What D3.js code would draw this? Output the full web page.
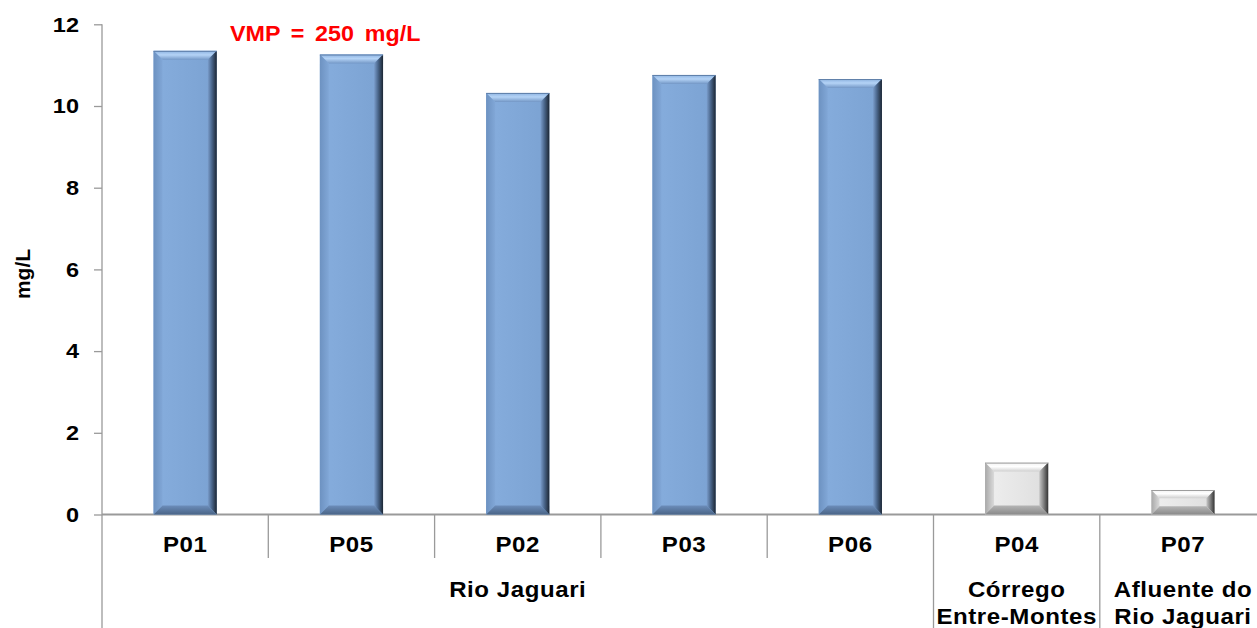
<!DOCTYPE html>
<html>
<head>
<meta charset="utf-8">
<script src="https://cdn.jsdelivr.net/npm/d3@7/dist/d3.min.js"></script>
<style>
  html, body { margin: 0; padding: 0; background: #fff; overflow: hidden; }
  svg { display: block; font-family: "Liberation Sans", Arial, sans-serif; }
</style>
</head>
<body>
<svg id="chart" width="1257" height="628"></svg>
<script>
// Sampling points and their measured concentration (mg/L)
const categories = ["P01", "P05", "P02", "P03", "P06", "P04", "P07"];
const values = [11.35, 11.26, 10.32, 10.76, 10.66, 1.27, 0.6];
const barKind = ["blue", "blue", "blue", "blue", "blue", "gray", "gray"];

// Water bodies grouping the sampling points (first/last index, text lines)
const groupLabels = [["Rio Jaguari"], ["Córrego", "Entre-Montes"], ["Afluente do", "Rio Jaguari"]];
const groupStart = [0, 5, 6];
const groupEnd = [4, 5, 6];

const yTicks = [0, 2, 4, 6, 8, 10, 12];
const yTitle = "mg/L";
const limitNote = "VMP = 250 mg/L";

const svg = d3.select("#chart");
const W = 1257, H = 628;

const plotLeft = 102, plotTop = 24.3, plotBottom = 514.5;
const step = 166.3;

const x = d3.scaleBand()
  .domain(categories)
  .range([plotLeft, plotLeft + step * categories.length])
  .padding(0);
const y = d3.scaleLinear().domain([0, 12]).range([plotBottom, plotTop]);

const barW = x.bandwidth() * 0.38;
const axisColor = "#9a9a9a";
const labelStretch = 1.12;

// ---- gradients for the bevelled bars ----
const defs = svg.append("defs");
function grad(id, x1, y1, x2, y2, stops) {
  const g = defs.append("linearGradient").attr("id", id)
    .attr("x1", x1).attr("y1", y1).attr("x2", x2).attr("y2", y2);
  stops.forEach(s => g.append("stop").attr("offset", s[0]).attr("stop-color", s[1]));
}
const palettes = {
  blue: {
    face: [[0, "#86addd"], [1, "#7ba2d2"]],
    top: [[0, "#7397c6"], [0.55, "#b4d3f6"], [1, "#8db3e1"]],
    left: [[0, "#6d92c1"], [1, "#81a7d7"]],
    right: [[0, "#7b9ecd"], [0.45, "#4a668b"], [1, "#1c2633"]],
    bottom: [[0, "#6c8dba"], [1, "#4a6587"]],
    edge: "#5f7fa9"
  },
  gray: {
    face: [[0, "#efefef"], [1, "#dedede"]],
    top: [[0, "#cfcfcf"], [0.55, "#ffffff"], [1, "#f2f2f2"]],
    left: [[0, "#a8a8a8"], [1, "#dadada"]],
    right: [[0, "#c8c8c8"], [0.5, "#808080"], [1, "#333333"]],
    bottom: [[0, "#b5b5b5"], [1, "#8a8a8a"]],
    edge: "#9c9c9c"
  }
};
Object.keys(palettes).forEach(k => {
  const p = palettes[k];
  grad(k + "-face", 0, 0, 1, 0, p.face);
  grad(k + "-top", 0, 1, 0, 0, p.top);
  grad(k + "-left", 0, 0, 1, 0, p.left);
  grad(k + "-right", 0, 0, 1, 0, p.right);
  grad(k + "-bottom", 0, 0, 0, 1, p.bottom);
});

// ---- y axis ----
const yAxis = d3.axisLeft(y).tickValues(yTicks).tickSize(8).tickPadding(16).tickFormat(d3.format("d"));
const gy = svg.append("g").attr("transform", `translate(${plotLeft},0)`).call(yAxis);
gy.select(".domain").remove();
gy.selectAll(".tick line").attr("stroke", axisColor).attr("stroke-width", 1.3);
gy.selectAll(".tick text")
  .attr("x", 0)
  .attr("transform", `translate(-23,0) scale(${labelStretch},1)`)
  .attr("fill", "#000").attr("font-size", 21).attr("font-weight", "bold")
  .attr("font-family", "Liberation Sans, Arial, sans-serif");
// vertical axis line continuing down through the label area
svg.append("line")
  .attr("x1", plotLeft).attr("x2", plotLeft)
  .attr("y1", plotTop).attr("y2", H)
  .attr("stroke", axisColor).attr("stroke-width", 1.3);

// ---- x baseline and category separators ----
svg.append("line")
  .attr("x1", plotLeft).attr("x2", W)
  .attr("y1", y(0)).attr("y2", y(0))
  .attr("stroke", axisColor).attr("stroke-width", 1.8);

const groupBoundaryIdx = new Set(groupStart);
categories.forEach((c, i) => {
  if (i === 0) return;
  const xx = x(c);
  const full = groupBoundaryIdx.has(i);
  svg.append("line")
    .attr("x1", xx).attr("x2", xx)
    .attr("y1", y(0)).attr("y2", full ? H : 558)
    .attr("stroke", axisColor).attr("stroke-width", 1.3);
});

// ---- bars with bevelled edges ----
const bars = svg.append("g");
categories.forEach((c, i) => {
  const k = barKind[i];
  const cx = x(c) + x.bandwidth() / 2;
  const x0 = cx - barW / 2, x1 = cx + barW / 2;
  const y0 = y(values[i]), y1 = y(0);
  const h = y1 - y0;
  const b = Math.min(9, h / 3);
  const g = bars.append("g");
  g.append("rect").attr("x", x0).attr("y", y0).attr("width", barW).attr("height", h)
    .attr("fill", `url(#${k}-face)`);
  const poly = (pts, fill) => g.append("polygon")
    .attr("points", pts.map(p => p.join(",")).join(" ")).attr("fill", fill);
  poly([[x0, y0], [x1, y0], [x1 - b, y0 + b], [x0 + b, y0 + b]], `url(#${k}-top)`);
  poly([[x0, y0], [x0 + b, y0 + b], [x0 + b, y1 - b], [x0, y1]], `url(#${k}-left)`);
  poly([[x1, y0], [x1, y1], [x1 - b, y1 - b], [x1 - b, y0 + b]], `url(#${k}-right)`);
  poly([[x0, y1], [x0 + b, y1 - b], [x1 - b, y1 - b], [x1, y1]], `url(#${k}-bottom)`);
  g.append("line").attr("x1", x0).attr("x2", x1).attr("y1", y0 + 0.5).attr("y2", y0 + 0.5)
    .attr("stroke", palettes[k].edge).attr("stroke-width", 1);
});

// helper: horizontally widened bold label centred on (cx, by)
function label(cx, by, str) {
  svg.append("g")
    .attr("transform", `translate(${cx},${by}) scale(${labelStretch},1)`)
    .append("text")
    .attr("text-anchor", "middle")
    .attr("font-size", 21.5).attr("font-weight", "bold").attr("fill", "#000")
    .attr("letter-spacing", 0.5)
    .text(str);
}

// ---- category labels ----
categories.forEach(c => label(x(c) + x.bandwidth() / 2, 552, c));

// ---- group labels ----
groupLabels.forEach((lines, gi) => {
  const xa = x(categories[groupStart[gi]]);
  const xb = x(categories[groupEnd[gi]]) + x.bandwidth();
  lines.forEach((ln, li) => label((xa + xb) / 2, 597 + li * 27, ln));
});

// ---- y axis title ----
svg.append("text")
  .attr("transform", `translate(30,${274}) rotate(-90)`)
  .attr("text-anchor", "middle")
  .attr("font-size", 21).attr("font-weight", "bold").attr("fill", "#000")
  .text(yTitle);

// ---- limit annotation ----
svg.append("g")
  .attr("transform", "translate(230,41) scale(1.06,1)")
  .append("text")
  .attr("font-size", 22).attr("font-weight", "bold").attr("fill", "#ff0000")
  .attr("word-spacing", 4)
  .text(limitNote);
</script>
</body>
</html>
